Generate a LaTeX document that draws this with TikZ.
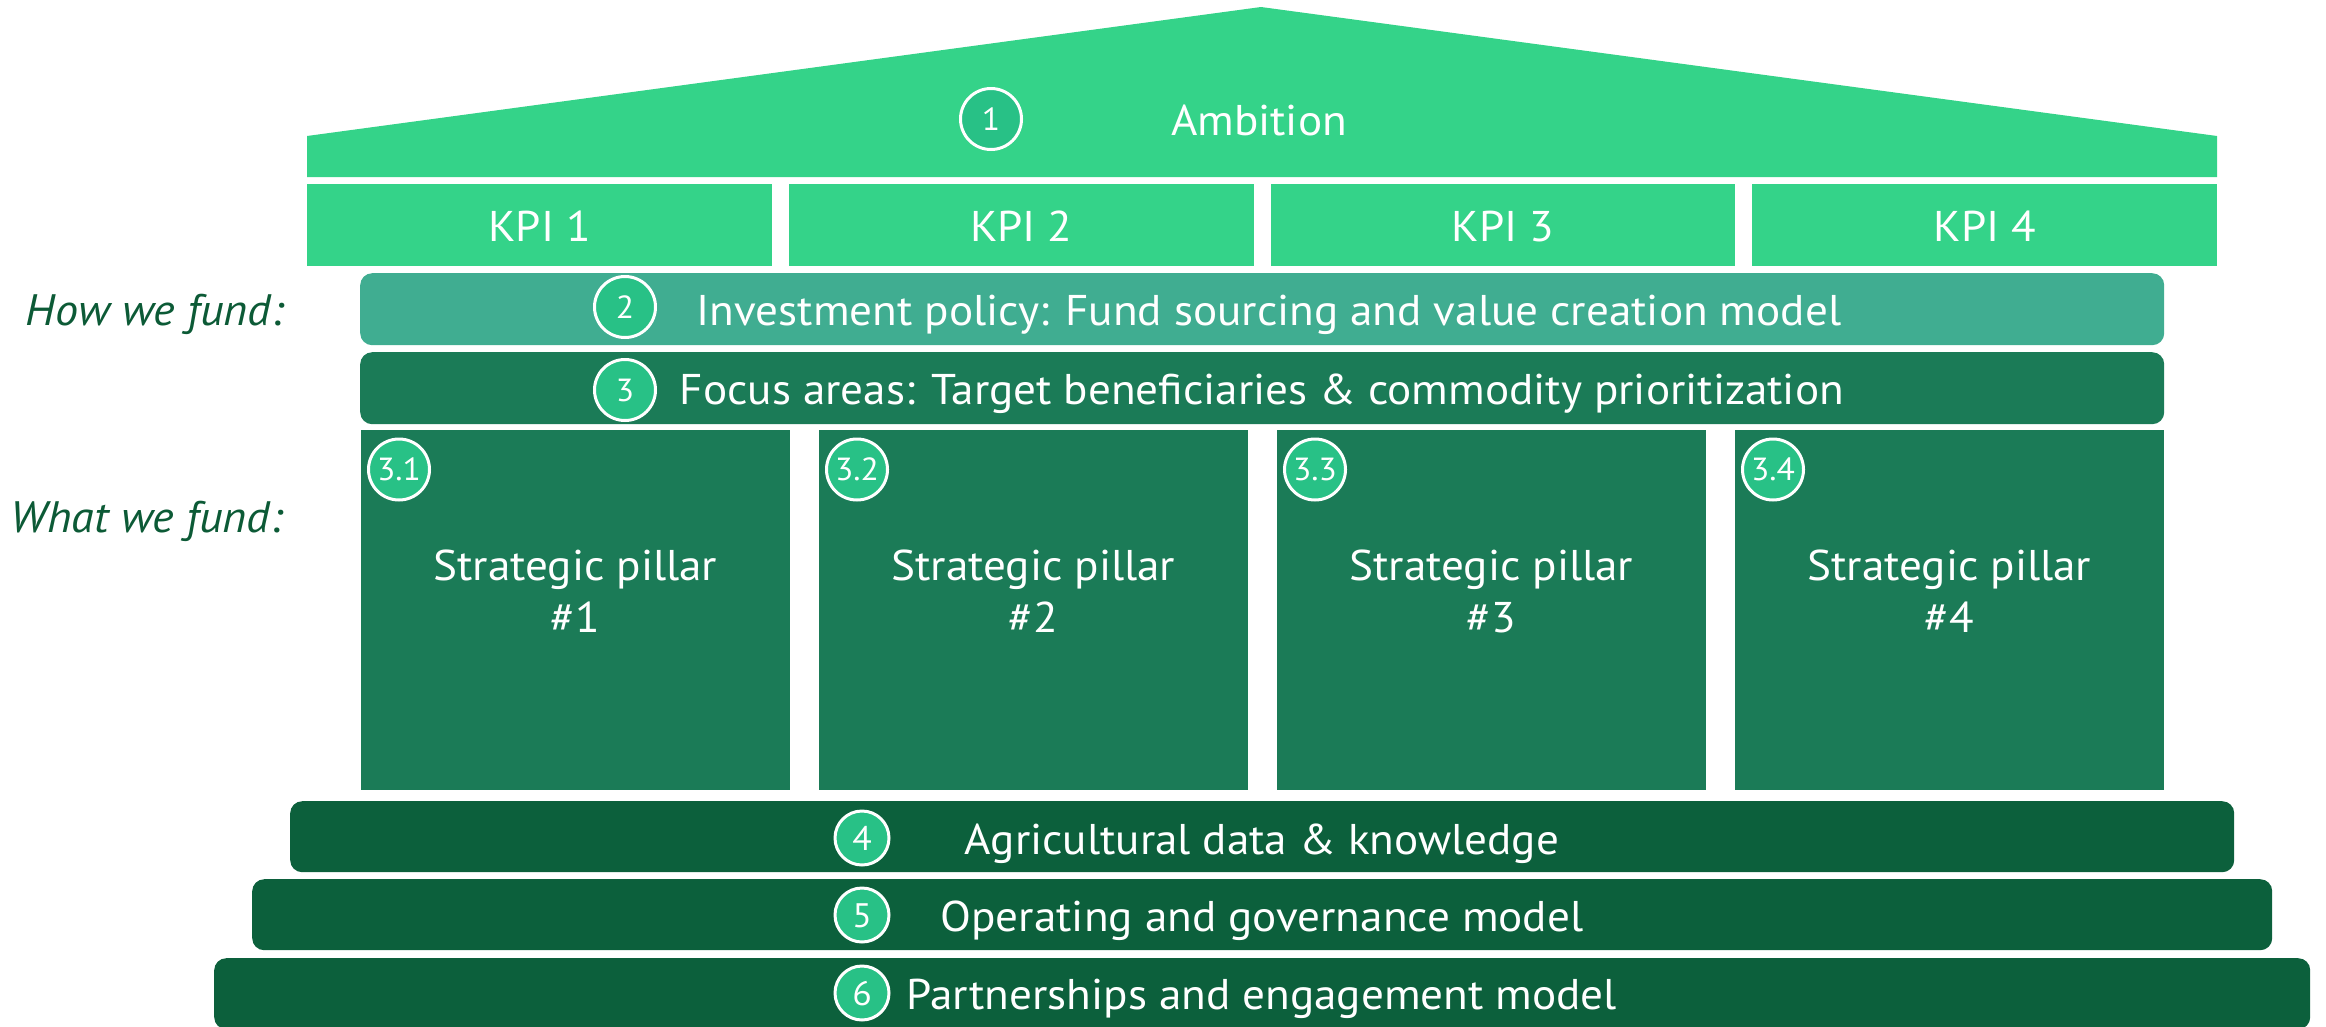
\documentclass[tikz,border=0pt]{standalone}
\usepackage{fontspec}
\setmainfont[FakeStretch=1.05]{PT Sans}
\usetikzlibrary{calc}
\definecolor{roofgreen}{HTML}{34D389}
\definecolor{badgegreen}{HTML}{28C186}
\definecolor{investgreen}{HTML}{40AD91}
\definecolor{focusgreen}{HTML}{1B7B57}
\definecolor{basegreen}{HTML}{0C603C}
\definecolor{labelgreen}{HTML}{0C5A36}
\begin{document}
\begin{tikzpicture}[x=1pt,y=-1pt,
  bigtext/.style={text=white, inner sep=0pt, font=\fontsize{43}{50}\selectfont,
    text height=30pt, text depth=0pt},
  slab/.style={inner sep=0pt, draw=none, anchor=north west},
  bar/.style={slab, rounded corners=12pt},
  badge/.style={circle, fill=badgegreen, draw=white, line width=3pt,
    minimum size=#1, inner sep=0pt, text=white,
    font=\fontsize{32}{32}\selectfont, text height=22pt, text depth=0pt},
  smallbadge/.style={badge=54pt, font=\fontsize{34}{34}\selectfont, text height=24pt},
  sidelabel/.style={anchor=east, inner sep=0pt, text=labelgreen,
    font=\itshape\fontsize{44}{50}\selectfont, text height=30pt, text depth=0pt},
]
\useasboundingbox (0,0) rectangle (2326,1026);

% roof with the ambition statement
\fill[roofgreen] (307,136) -- (1261,7) -- (2217,136) -- (2217,177) -- (307,177) -- cycle;
\node[bigtext] (ambition) at (1259,120) {Ambition};
\node[badge=61pt] (b1) at (991,119) {1};

% KPI row
\foreach \i/\x in {1/307,2/788.75,3/1270.5,4/1752.25}{
  \node[slab, fill=roofgreen, minimum width=464.75pt, minimum height=82pt] (kpi\i) at (\x,184) {};
  \node[bigtext] (kpitext\i) at ($(kpi\i.center)+(0,1)$) {KPI \i};
}

% how we fund
\node[bar, fill=investgreen, minimum width=1804pt, minimum height=72pt] (invest) at (360,273) {};
\node[bigtext] (investtext) at (1269,310) {Investment policy: Fund sourcing and value creation model};
\node[badge=61pt] (b2) at (625,307) {2};

\node[bar, fill=focusgreen, minimum width=1804pt, minimum height=72pt] (focus) at (360,352) {};
\node[bigtext] (focustext) at (1262,389) {Focus areas: Target beneficiaries \& commodity prioritization};
\node[badge=61pt] (b3) at (625,390) {3};

% strategic pillars
\foreach \i in {1,...,4}{
  \pgfmathsetmacro{\px}{361+458*(\i-1)}
  \node[slab, fill=focusgreen, minimum width=429pt, minimum height=360pt] (pillar\i) at (\px,430) {};
  \node[badge=61pt] (b3\i) at (\px+38,469.5) {3.\i};
  \node[bigtext] (pillartop\i) at (\px+214.5,565.5) {Strategic pillar};
  \node[bigtext] (pillarnum\i) at (\px+214.5,617) {\#\i};
}

% foundations
\node[bar, fill=basegreen, minimum width=1944pt, minimum height=71pt] (data) at (290,801) {};
\node[bigtext] (datatext) at (1262,839) {Agricultural data \& knowledge};
\node[smallbadge] (b4) at (862,838) {4};

\node[bar, fill=basegreen, minimum width=2020pt, minimum height=71pt] (operating) at (252,879) {};
\node[bigtext] (operatingtext) at (1262,916) {Operating and governance model};
\node[smallbadge] (b5) at (862,915) {5};

\node[bar, fill=basegreen, minimum width=2096pt, minimum height=71pt] (partners) at (214,958) {};
\node[bigtext] (partnerstext) at (1262,994) {Partnerships and engagement model};
\node[smallbadge] (b6) at (862,993) {6};

% row captions
\node[sidelabel] (how) at (284,310) {How we fund:};
\node[sidelabel] (what) at (283,517) {What we fund:};
\end{tikzpicture}
\end{document}
